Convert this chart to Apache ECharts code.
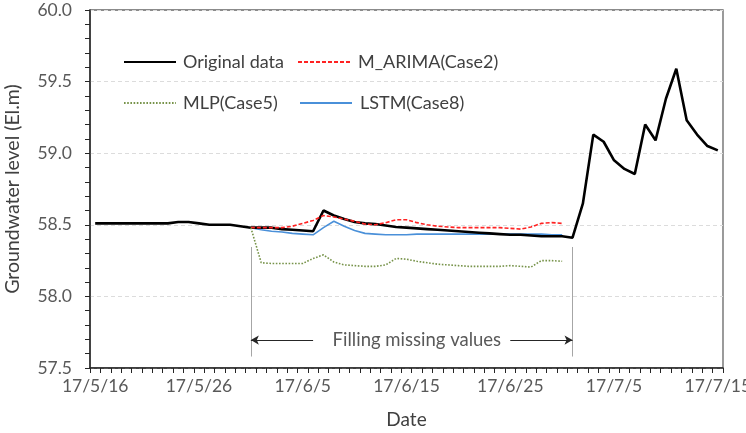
<!DOCTYPE html>
<html><head><meta charset="utf-8">
<script src="https://cdn.jsdelivr.net/npm/echarts@6/dist/echarts.min.js"></script>
<style>html,body{margin:0;padding:0;background:#fff}#c{width:746px;height:433px}</style>
</head><body><div id="c"></div>
<script>
const dates = ['17/5/16','17/5/17','17/5/18','17/5/19','17/5/20','17/5/21','17/5/22','17/5/23','17/5/24','17/5/25','17/5/26','17/5/27','17/5/28','17/5/29','17/5/30','17/5/31',
'17/6/1','17/6/2','17/6/3','17/6/4','17/6/5','17/6/6','17/6/7','17/6/8','17/6/9','17/6/10','17/6/11','17/6/12','17/6/13','17/6/14','17/6/15','17/6/16','17/6/17','17/6/18','17/6/19','17/6/20','17/6/21','17/6/22','17/6/23','17/6/24','17/6/25','17/6/26','17/6/27','17/6/28','17/6/29','17/6/30',
'17/7/1','17/7/2','17/7/3','17/7/4','17/7/5','17/7/6','17/7/7','17/7/8','17/7/9','17/7/10','17/7/11','17/7/12','17/7/13','17/7/14','17/7/15'];

const originalData = [58.51,58.51,58.51,58.51,58.51,58.51,58.51,58.51,58.52,58.52,58.51,58.50,58.50,58.50,58.49,58.48,
58.48,58.48,58.47,58.465,58.46,58.455,58.60,58.565,58.54,58.52,58.51,58.505,58.495,58.485,58.48,58.475,58.47,58.465,58.46,58.455,58.45,58.445,58.44,58.435,58.43,58.43,58.425,58.42,58.42,58.42,
58.41,58.65,59.13,59.08,58.95,58.89,58.855,59.20,59.09,59.38,59.59,59.23,59.13,59.05,59.02];

const pad = [null,null,null,null,null,null,null,null,null,null,null,null,null,null,null];
const tail = [null,null,null,null,null,null,null,null,null,null,null,null,null,null,null];

const arimaData = pad.concat([58.48,58.48,58.48,58.48,58.49,58.51,58.53,58.565,58.555,58.54,58.525,58.505,58.50,58.515,58.535,58.535,58.515,58.50,58.49,58.485,58.48,58.48,58.48,58.48,58.48,58.475,58.47,58.485,58.51,58.515,58.51]).concat(tail);
const mlpData = pad.concat([58.48,58.235,58.23,58.23,58.23,58.23,58.265,58.29,58.24,58.22,58.215,58.21,58.21,58.22,58.265,58.26,58.245,58.235,58.225,58.22,58.215,58.21,58.21,58.21,58.21,58.215,58.21,58.205,58.25,58.25,58.245]).concat(tail);
const lstmData = pad.concat([58.48,58.465,58.455,58.45,58.44,58.435,58.43,58.48,58.525,58.49,58.46,58.44,58.435,58.43,58.43,58.43,58.435,58.435,58.435,58.435,58.435,58.435,58.435,58.435,58.435,58.435,58.435,58.435,58.435,58.43,58.43]).concat(tail);

const seriesNames = ['Original data','M_ARIMA(Case2)','MLP(Case5)','LSTM(Case8)'];
const yMin = 57.5, yMax = 60.0, yStep = 0.5;

const FONT = 'Lato';
const TXT = '#595959';

const chart = echarts.init(document.getElementById('c'), null, {renderer:'canvas'});

function legendFor(name, left, top, gap){
  return {data:[name], left:left, top:top, padding:0, itemWidth:52, itemHeight:14, itemGap:0, selectedMode:false,
    itemStyle:{opacity:0},
    textStyle:{fontFamily:FONT, fontSize:18, color:'#404040', padding:[0,0,0,gap]}};
}

chart.setOption({
  animation:false,
  backgroundColor:'#fff',
  grid:{left:90, right:23, top:10, bottom:65, show:true, borderColor:'#666', borderWidth:1.3, outerBoundsMode:'none', containLabel:false},
  legend:[
    legendFor(seriesNames[0],123,53,2),
    legendFor(seriesNames[1],297,53,3),
    legendFor(seriesNames[2],123,94,2),
    legendFor(seriesNames[3],299,94,3)
  ],
  xAxis:{
    type:'category', data:dates, boundaryGap:true,
    name:'Date', nameLocation:'middle', nameGap:42,
    nameTextStyle:{fontFamily:FONT, fontSize:19, color:'#404040'},
    axisLine:{lineStyle:{color:'#262626', width:1.5}},
    axisTick:{show:true, interval:0, length:5, inside:false, alignWithLabel:false, lineStyle:{color:'#262626'}},
    axisLabel:{interval:9, fontFamily:FONT, fontSize:17.5, color:TXT, margin:9, showMaxLabel:true, hideOverlap:false},
    splitLine:{show:false}
  },
  yAxis:{
    type:'value', min:yMin, max:yMax, interval:yStep,
    name:'Groundwater level (El.m)', nameLocation:'middle', nameGap:67, nameRotate:90,
    nameTextStyle:{fontFamily:FONT, fontSize:19.5, color:'#404040'},
    axisLine:{show:true, lineStyle:{color:'#262626', width:1.5}},
    axisTick:{show:true, length:5, inside:false, lineStyle:{color:'#262626'}},
    minorTick:{show:true, splitNumber:5, length:5, lineStyle:{color:'#262626'}},
    axisLabel:{fontFamily:FONT, fontSize:17.5, color:TXT, margin:18, formatter:v=>v.toFixed(1)},
    splitLine:{show:true, lineStyle:{color:'#dcdcdc', type:[4,3], width:1}}
  },
  series:[
    {name:seriesNames[0], type:'line', data:originalData, symbol:'none', z:3,
      lineStyle:{color:'#000', width:2.6}, itemStyle:{color:'#000', opacity:0}},
    {name:seriesNames[1], type:'line', data:arimaData, symbol:'none', z:4,
      lineStyle:{color:'#f22', width:1.6, type:[4,2]}, itemStyle:{color:'#f22', opacity:0}},
    {name:seriesNames[2], type:'line', data:mlpData, symbol:'none', z:4,
      lineStyle:{color:'#77934a', width:1.6, type:[1.6,1.6]}, itemStyle:{color:'#77934a', opacity:0}},
    {name:seriesNames[3], type:'line', data:lstmData, symbol:'none', z:2,
      lineStyle:{color:'#4a90d9', width:1.6}, itemStyle:{color:'#4a90d9', opacity:0}},
    {name:'annot', type:'line', data:[], symbol:'none', silent:true,
      markLine:{silent:true, animation:false, symbol:['none','none'], label:{show:false},
        lineStyle:{color:'#a6a6a6', width:1, type:'solid'},
        data:[
          [{coord:[15,58.345]},{coord:[15,57.58]}],
          [{coord:[46,58.345]},{coord:[46,57.58]}],
          [{coord:[20.8,57.695], symbol:'none', lineStyle:{color:'#262626',width:1}},{coord:[15.1,57.695], symbol:'arrow', symbolSize:[7,8], lineStyle:{color:'#262626',width:1}}],
          [{coord:[40.4,57.695], symbol:'none', lineStyle:{color:'#262626',width:1}},{coord:[45.85,57.695], symbol:'arrow', symbolSize:[7,8], lineStyle:{color:'#262626',width:1}}]
        ]},
      markPoint:{silent:true, symbol:'circle', symbolSize:0,
        label:{show:true, position:'inside', formatter:'Filling missing values', fontFamily:FONT, fontSize:18.5, color:TXT},
        data:[{coord:[30.5,57.695]}]}
    }
  ]
});
</script></body></html>
